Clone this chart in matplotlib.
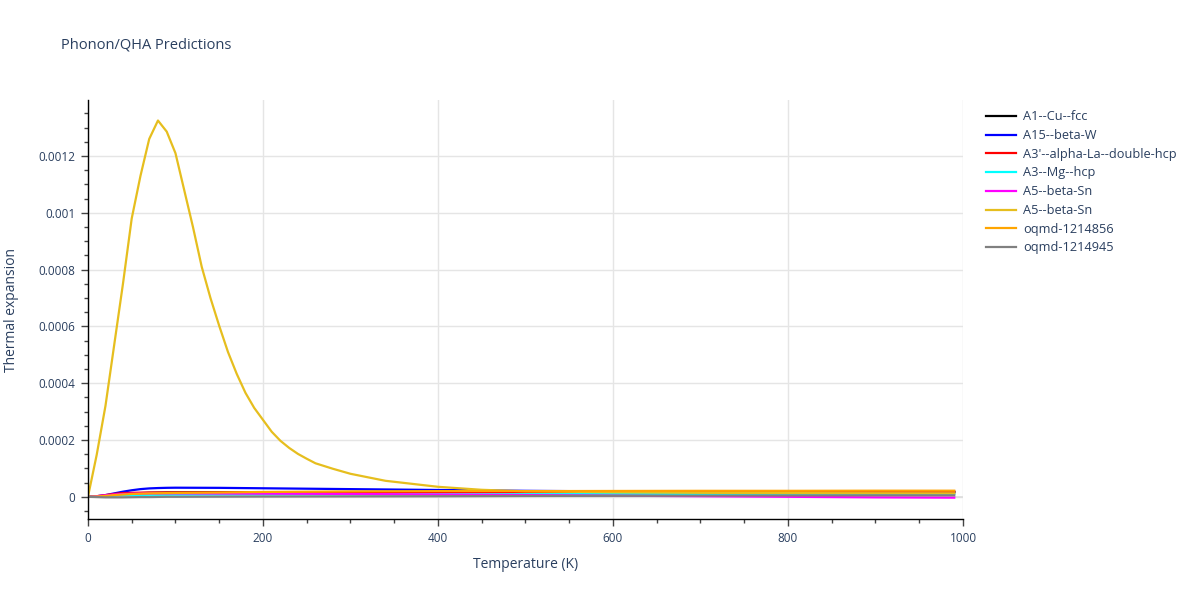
import numpy as np
import matplotlib
matplotlib.use("Agg")
from matplotlib import pyplot as plt
from matplotlib.ticker import MultipleLocator, FuncFormatter

# temperature grid for the big peak curve
temp_peak = [0, 10, 20, 30, 40, 50, 60, 70, 80, 90, 100, 110, 120, 130, 140, 150,
             160, 170, 180, 190, 200, 210, 220, 230, 240, 250, 260, 280, 300,
             320, 340, 360, 380, 400, 450, 500, 600, 700, 800, 900, 990]
sn_peak = [0, 0.000148, 0.00032, 0.000535, 0.00075, 0.00098, 0.00113, 0.00126,
           0.001325, 0.001286, 0.00121, 0.00108, 0.00095, 0.00081, 0.0007, 0.000602,
           0.00051, 0.000433, 0.000366, 0.000313, 0.000271, 0.000229, 0.000197,
           0.000172, 0.000151, 0.000134, 0.000118, 0.0000986, 0.000081,
           0.0000686, 0.0000563, 0.0000493, 0.0000422, 0.0000352, 0.0000246,
           0.0000194, 0.000016, 0.000014, 0.000013, 0.0000125, 0.000012]

# temperature grid for the flat curves
temp = [0, 10, 20, 30, 40, 50, 60, 70, 80, 90, 100, 150, 200, 300, 400, 500,
        600, 700, 800, 900, 990]
cu_fcc = [0, 0.000001, 0.000003, 0.000006, 0.000009, 0.000011, 0.000013, 0.000014,
          0.0000145, 0.000015, 0.0000152, 0.0000158, 0.000016, 0.0000165, 0.000017,
          0.0000172, 0.0000174, 0.0000176, 0.0000178, 0.000018, 0.000018]
beta_w = [0, 0.000002, 0.000006, 0.000012, 0.000018, 0.000023, 0.000027, 0.0000295,
          0.0000308, 0.0000316, 0.000032, 0.0000315, 0.00003, 0.000027, 0.000024,
          0.000021, 0.000019, 0.000018, 0.0000175, 0.000017, 0.0000165]
la_dhcp = [0, 0.000002, 0.000006, 0.00001, 0.000013, 0.000014, 0.0000145, 0.000015,
           0.000015, 0.000015, 0.000015, 0.000015, 0.0000152, 0.0000155, 0.0000158,
           0.000016, 0.000016, 0.000016, 0.000016, 0.000016, 0.000016]
mg_hcp = [0, 0.000001, 0.000002, 0.000004, 0.000005, 0.000006, 0.0000065, 0.000007,
          0.000007, 0.0000072, 0.0000074, 0.0000077, 0.000008, 0.0000083, 0.0000087,
          0.000009, 0.0000093, 0.0000095, 0.0000097, 0.0000099, 0.00001]
beta_sn = [0, 0.000002, 0.000005, 0.000008, 0.00001, 0.000011, 0.0000115, 0.000012,
           0.000012, 0.000012, 0.000012, 0.0000115, 0.000011, 0.00001, 0.000008,
           0.000006, 0.000004, 0.000002, 0.0, -0.000002, -0.000003]
oqmd_856 = [0, 0.000001, 0.000003, 0.000006, 0.000008, 0.00001, 0.000011, 0.000012,
            0.0000125, 0.000013, 0.0000135, 0.000015, 0.000017, 0.000019, 0.00002,
            0.00002, 0.0000205, 0.000021, 0.000021, 0.0000215, 0.0000215]
oqmd_945 = [0, -0.000001, -0.000002, -0.000002, -0.000002, -0.0000015, -0.000001,
            -0.000001, -0.0000005, 0, 0, 0.0000005, 0.000001, 0.0000015, 0.000002,
            0.000003, 0.0000035, 0.000004, 0.0000045, 0.000005, 0.000005]

text_color = "#2a3f5f"
plt.rcParams['font.family'] = ['Open Sans', 'DejaVu Sans']

fig = plt.figure(figsize=(12, 6), dpi=100)
ax = fig.add_axes([0.0733, 0.135, 0.7292, 0.6983])

ax.axhline(0, color="#dddddd", lw=1.2, zorder=1)
ax.plot(temp, cu_fcc, color="black", lw=1.6, label="A1--Cu--fcc")
ax.plot(temp, beta_w, color="blue", lw=1.6, label="A15--beta-W")
ax.plot(temp, la_dhcp, color="red", lw=1.6, label="A3'--alpha-La--double-hcp")
ax.plot(temp, mg_hcp, color="cyan", lw=1.6, label="A3--Mg--hcp")
ax.plot(temp, beta_sn, color="magenta", lw=1.6, label="A5--beta-Sn")
ax.plot(temp_peak, sn_peak, color="#e6be1e", lw=1.6, label="A5--beta-Sn")
ax.plot(temp, oqmd_856, color="orange", lw=1.6, label="oqmd-1214856")
ax.plot(temp, oqmd_945, color="grey", lw=1.6, label="oqmd-1214945")

ax.set_xlim(0, 1000)
ax.set_ylim(-0.0000782, 0.0013972)
ax.xaxis.set_major_locator(MultipleLocator(200))
ax.xaxis.set_minor_locator(MultipleLocator(50))
ax.yaxis.set_major_locator(MultipleLocator(0.0002))
ax.yaxis.set_minor_locator(MultipleLocator(0.00005))
ax.yaxis.set_major_formatter(FuncFormatter(lambda v, p: "0" if abs(v) < 1e-12 else "%g" % v))
ax.grid(True, which="major", color="#e5e5e5", lw=1)
ax.set_axisbelow(True)

for s in ["top", "right"]:
    ax.spines[s].set_visible(False)
for s in ["left", "bottom"]:
    ax.spines[s].set_color("black")
    ax.spines[s].set_linewidth(1)

ax.tick_params(which="major", length=5, width=1, color="#444444", labelsize=8.5,
               labelcolor=text_color, pad=4)
ax.tick_params(which="minor", length=3, width=1, color="#444444")

ax.set_xlabel("Temperature (K)", fontsize=10, color=text_color, labelpad=9)
ax.set_ylabel("Thermal expansion", fontsize=10, color=text_color, labelpad=14)
fig.text(0.051, 0.925, "Phonon/QHA Predictions", fontsize=10.5, color=text_color,
         va="center")

ax.legend(loc="upper left", bbox_to_anchor=(1.015, 1.0), frameon=False,
          fontsize=9.2, labelcolor=text_color, handlelength=2.3,
          handletextpad=0.55, labelspacing=0.45, borderaxespad=0.4)

fig.savefig("out.png", dpi=100)
